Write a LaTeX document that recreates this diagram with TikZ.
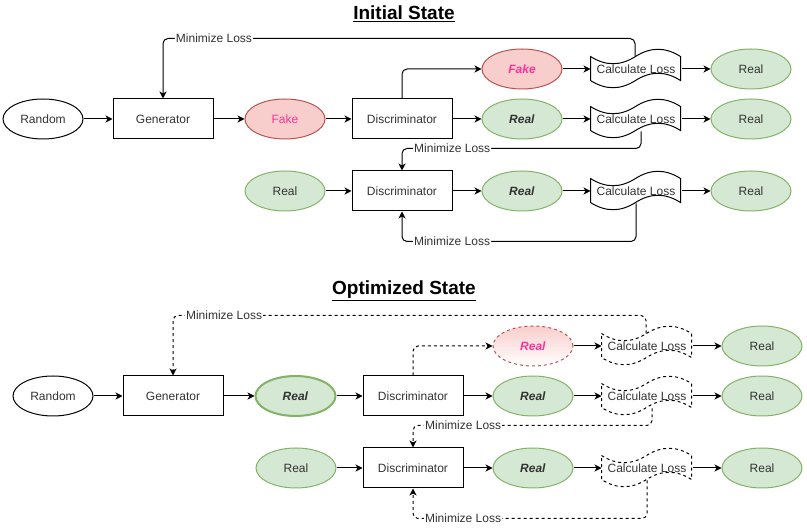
\documentclass[tikz,border=0pt]{standalone}
\usepackage{fontspec}
\setmainfont{Liberation Sans}
\usepackage{xcolor}
\usepackage{tikz}
\usetikzlibrary{arrows.meta,calc,positioning,shapes.geometric}
\definecolor{realfill}{HTML}{D5E8D4}
\definecolor{realline}{HTML}{82B366}
\definecolor{fakefill}{HTML}{F8CECC}
\definecolor{fakeline}{HTML}{B85450}
\definecolor{fakefont}{HTML}{FF3399}
\definecolor{txt}{HTML}{333333}

\begin{document}
\begin{tikzpicture}[x=1pt,y=-1pt,line width=1pt,
  font=\fontsize{12}{14}\selectfont,text=txt,
  term/.style={ellipse,draw,minimum width=80pt,minimum height=40pt,inner sep=0pt},
  real/.style={term,draw=realline,fill=realfill},
  fake/.style={term,draw=fakeline,fill=fakefill,text=fakefont},
  block/.style={draw,minimum width=100pt,minimum height=40pt,inner sep=0pt},
  tapebox/.style={minimum width=90pt,minimum height=40pt,inner sep=0pt},
  flow/.style={-{Stealth[length=7pt,width=7pt,inset=2pt]}},
  loop/.style={flow,rounded corners=5pt},
  dashline/.style={dash pattern=on 3pt off 3pt},
  lbl/.style={fill=white,inner sep=1pt},
  title/.style={font=\fontsize{19}{22}\selectfont\bfseries,text=black}]
  \useasboundingbox (0,0) rectangle (807,529);

  % initial state
  \node[title] (title1) at (404,14) {\underline{Initial State}};
  \node[term] (rnd1) at (43,119) {Random};
  \node[block,right=29pt of rnd1] (gen1) {Generator};
  \node[fake,right=31pt of gen1] (smp1) {Fake};
  \node[block,right=26pt of smp1] (dsc1) {Discriminator};
  \node[real,right=29pt of dsc1] (out1) {\textbf{\textit{Real}}};
  \node[tapebox,right=28pt of out1] (cl1) {Calculate Loss};
  \node[real,right=29pt of cl1] (res1) {Real};
  \node[fake,above=9pt of out1] (fkup1) {\textbf{\textit{Fake}}};
  \node[tapebox,right=28pt of fkup1] (clup1) {Calculate Loss};
  \node[real,right=29pt of clup1] (rsup1) {Real};
  \node[block,below=31pt of dsc1] (dlow1) {Discriminator};
  \node[real,left=26pt of dlow1] (rin1) {Real};
  \node[real,right=29pt of dlow1] (olow1) {\textbf{\textit{Real}}};
  \node[tapebox,right=28pt of olow1] (cllow1) {Calculate Loss};
  \node[real,right=29pt of cllow1] (rslow1) {Real};

  \foreach \n in {clup1,cl1,cllow1}
    \draw[shift={(\n.north west)}] (0,8) .. controls (15,17.6) and (30,17.6) .. (45,8)
      .. controls (60,-1.6) and (75,-1.6) .. (90,8) -- (90,32)
      .. controls (75,22.4) and (60,22.4) .. (45,32)
      .. controls (30,41.6) and (15,41.6) .. (0,32) -- cycle;

  \foreach \a/\b in {rnd1/gen1,gen1/smp1,smp1/dsc1,dsc1/out1,out1/cl1,cl1/res1,
                     fkup1/clup1,clup1/rsup1,rin1/dlow1,dlow1/olow1,olow1/cllow1,cllow1/rslow1}
    \draw[flow] (\a) -- (\b);
  \draw[loop] (dsc1.north) |- (fkup1);
  \draw[loop] ($(clup1.north)+(-1,8)$) -- ++(0,-18) -| node[lbl,pos=0.446] {Minimize Loss} (gen1.north);
  \draw[loop] ($(cl1.south)+(5,-8)$) -- ++(0,17) -| node[lbl,pos=0.395] {Minimize Loss} (dlow1.north);
  \draw[loop] ($(cllow1.south)+(0,-8)$) -- ++(0,38) -| node[lbl,pos=0.393] {Minimize Loss} (dlow1.south);

  % optimized state
  \node[title] (title2) at (404,291) {\underline{Optimized State}};
  \node[term] (rnd2) at (53,396) {Random};
  \node[block,right=29pt of rnd2] (gen2) {Generator};
  \node[real,line width=2pt,right=31pt of gen2] (smp2) {\textbf{\textit{Real}}};
  \node[block,right=26pt of smp2] (dsc2) {Discriminator};
  \node[real,right=29pt of dsc2] (out2) {\textbf{\textit{Real}}};
  \node[tapebox,right=28pt of out2] (cl2) {Calculate Loss};
  \node[real,right=29pt of cl2] (res2) {Real};
  \node[term,dashline,draw=fakeline,top color=fakefill,bottom color=white,text=fakefont,
        above=9pt of out2] (fkup2) {\textbf{\textit{Real}}};
  \node[tapebox,right=28pt of fkup2] (clup2) {Calculate Loss};
  \node[real,right=29pt of clup2] (rsup2) {Real};
  \node[block,below=31pt of dsc2] (dlow2) {Discriminator};
  \node[real,left=26pt of dlow2] (rin2) {Real};
  \node[real,right=29pt of dlow2] (olow2) {\textbf{\textit{Real}}};
  \node[tapebox,right=28pt of olow2] (cllow2) {Calculate Loss};
  \node[real,right=29pt of cllow2] (rslow2) {Real};

  \foreach \n in {clup2,cl2,cllow2}
    \draw[dashline,shift={(\n.north west)}] (0,8) .. controls (15,17.6) and (30,17.6) .. (45,8)
      .. controls (60,-1.6) and (75,-1.6) .. (90,8) -- (90,32)
      .. controls (75,22.4) and (60,22.4) .. (45,32)
      .. controls (30,41.6) and (15,41.6) .. (0,32) -- cycle;

  \foreach \a/\b in {rnd2/gen2,gen2/smp2,smp2/dsc2,dsc2/out2,out2/cl2,cl2/res2,
                     fkup2/clup2,clup2/rsup2,rin2/dlow2,dlow2/olow2,olow2/cllow2,cllow2/rslow2}
    \draw[flow] (\a) -- (\b);
  \draw[loop,dashline] (dsc2.north) |- (fkup2);
  \draw[loop,dashline] ($(clup2.north)+(-1,8)$) -- ++(0,-18) -| node[lbl,pos=0.446] {Minimize Loss} (gen2.north);
  \draw[loop,dashline] ($(cl2.south)+(5,-8)$) -- ++(0,17) -| node[lbl,pos=0.395] {Minimize Loss} (dlow2.north);
  \draw[loop,dashline] ($(cllow2.south)+(0,-8)$) -- ++(0,38) -| node[lbl,pos=0.393] {Minimize Loss} (dlow2.south);
\end{tikzpicture}
\end{document}
